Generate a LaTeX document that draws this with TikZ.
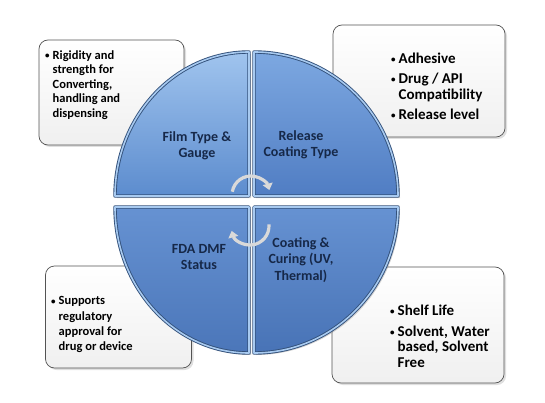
\documentclass[tikz,border=0pt]{standalone}
\usepackage{fontspec}
\setmainfont{Carlito}
\usetikzlibrary{arrows.meta,shadows,positioning}
\definecolor{quadline}{RGB}{50,80,122}
\definecolor{quadhi}{RGB}{168,202,240}
\definecolor{labelblue}{RGB}{22,40,72}
\newcommand{\dotmark}{\raisebox{0.8pt}{\fontsize{9}{9}\selectfont\textbullet}}

\begin{document}
\begin{tikzpicture}[x=1pt,y=1pt]

        % Setup the styles for the pieces and the notes
        \tikzset{quad piece/.style={draw=quadline,
                                    double=quadhi,
                                    double distance=1.6pt,
                                    line width=0.9pt,
                                    line join=round,
                                    drop shadow={shadow xshift=2pt, shadow yshift=-2pt, opacity=0.35}},
                 note box/.style={rectangle,
                                  draw=gray!65!black,
                                  line width=0.7pt,
                                  rounded corners=9pt,
                                  top color=white,
                                  bottom color=gray!12,
                                  inner sep=0pt,
                                  drop shadow={shadow xshift=2pt, shadow yshift=-2pt, opacity=0.25}},
                 note text/.style={anchor=north west, inner sep=0pt, font=\bfseries},
                 quad label/.style={align=center, inner sep=0pt, text=labelblue,
                                    font=\bfseries\fontsize{14}{16.5}\selectfont},
                 turn arrow/.style={draw=gray!30, line width=3.2pt,
                                    -{Triangle[length=6.5pt, width=10pt]}}}

        \useasboundingbox (0,0) rectangle (545,402);

        % Draw the notes
        \node[note box, minimum width=145pt, minimum height=105pt] at (111.5,309.5) (boxfilm)    {};
        \node[note box, minimum width=172pt, minimum height=112pt] at (419,321)     (boxrelease) {};
        \node[note box, minimum width=146pt, minimum height=102pt] at (118.5,85)    (boxfda)     {};
        \node[note box, minimum width=172pt, minimum height=116pt] at (418,77)      (boxcuring)  {};

        \node[note text, font=\bfseries\fontsize{12.5}{14.5}\selectfont] at (45,353) (txtfilm)
            {\begin{tabular}{@{}l@{\hspace{3pt}}l@{}}
             \dotmark & Rigidity and\\ & strength for\\ & Converting,\\ & handling and\\ & dispensing
             \end{tabular}};
        \node[note text, font=\bfseries\fontsize{15}{16}\selectfont] at (391,350) (txtrelease)
            {\begin{tabular}{@{}l@{\hspace{3pt}}l@{}}
             \dotmark & Adhesive\\[4pt] \dotmark & Drug / API\\ & Compatibility\\[4pt]
             \dotmark & Release level
             \end{tabular}};
        \node[note text, font=\bfseries\fontsize{12.5}{15.3}\selectfont] at (51,108) (txtfda)
            {\begin{tabular}{@{}l@{\hspace{3pt}}l@{}}
             \dotmark & Supports\\ & regulatory\\ & approval for\\ & drug or device
             \end{tabular}};
        \node[note text, font=\bfseries\fontsize{15}{15.5}\selectfont] at (390,98) (txtcuring)
            {\begin{tabular}{@{}l@{\hspace{3pt}}l@{}}
             \dotmark & Shelf Life\\[5.5pt] \dotmark & Solvent, Water\\ & based, Solvent\\ & Free
             \end{tabular}};

        % Draw the four pieces of the wheel
        \path[quad piece, top color={rgb,255:red,160;green,196;blue,238}, bottom color={rgb,255:red,92;green,140;blue,206}]
            (249,206) -- (115,206) arc[start angle=180, end angle=90, x radius=134, y radius=144] -- cycle;
        \path[quad piece, top color={rgb,255:red,125;green,168;blue,225}, bottom color={rgb,255:red,80;green,125;blue,195}]
            (254,206) -- (254,350) arc[start angle=90, end angle=0, x radius=144, y radius=144] -- cycle;
        \path[quad piece, top color={rgb,255:red,102;green,146;blue,210}, bottom color={rgb,255:red,75;green,118;blue,185}]
            (249,195) -- (249,49) arc[start angle=270, end angle=180, x radius=134, y radius=146] -- cycle;
        \path[quad piece, top color={rgb,255:red,102;green,146;blue,210}, bottom color={rgb,255:red,72;green,115;blue,182}]
            (254,195) -- (398,195) arc[start angle=0, end angle=-90, x radius=144, y radius=146] -- cycle;

        % Label the pieces
        \node[quad label] at (197,256) (film)    {Film Type \&\\Gauge};
        \node[quad label] at (301,257) (release) {Release\\Coating Type};
        \node[quad label] at (199,145) (fda)     {FDA DMF\\Status};
        \node[quad label] at (301,142) (curing)  {Coating \&\\Curing (UV,\\Thermal)};

        % Turning arrows in the middle
        \draw[turn arrow] (251,207) ++(170:19) arc[start angle=170, end angle=15, radius=19];
        \draw[turn arrow] (250,176) ++(5:19) arc[start angle=5, end angle=-165, radius=19];

    \end{tikzpicture}
\end{document}
